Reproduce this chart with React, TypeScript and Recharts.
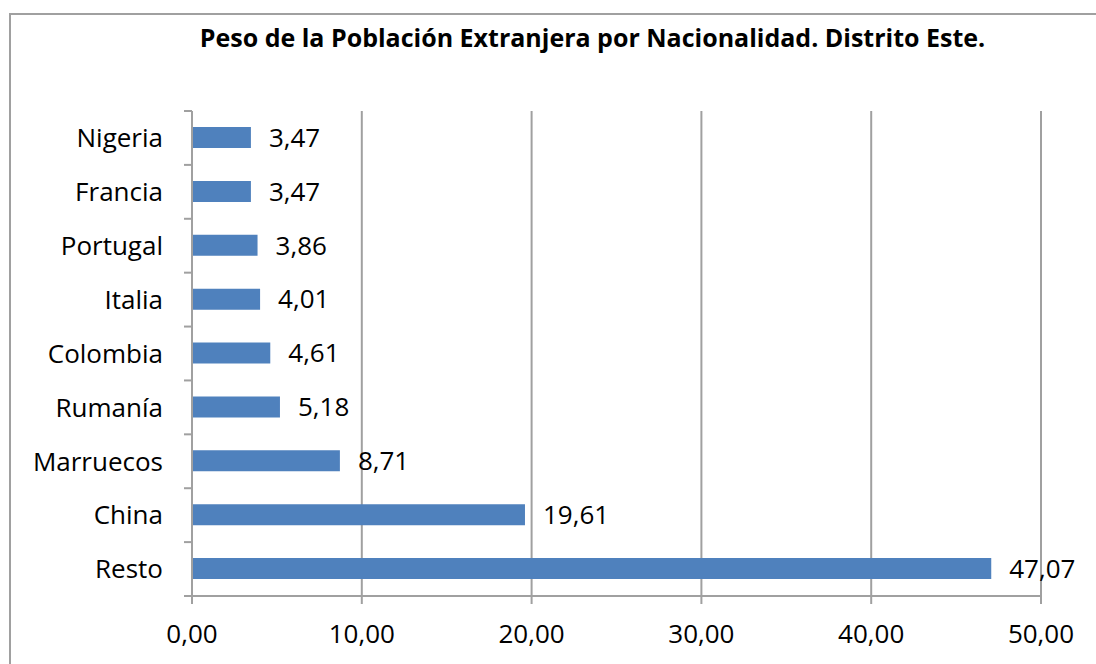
import React from "react";
import { BarChart, Bar, XAxis, YAxis, CartesianGrid, LabelList } from "recharts";

const countries = ["Nigeria", "Francia", "Portugal", "Italia", "Colombia", "Rumanía", "Marruecos", "China", "Resto"];
const weights = [3.47, 3.47, 3.86, 4.01, 4.61, 5.18, 8.71, 19.61, 47.07];
const xTicks = [0, 10, 20, 30, 40, 50];
const title = "Peso de la Población Extranjera por Nacionalidad. Distrito Este.";

const data = countries.map((c, i) => ({ name: c, value: weights[i] }));

const fmt = (v: any) => Number(v).toFixed(2).replace(".", ",");
const FONT = "'Open Sans', 'Noto Sans', sans-serif";
const GRAY = "#a0a0a0";

const W = 1096;
const H = 664;
const M_TOP = 111;
const X_AXIS_H = 68;
const Y_AXIS_W = 192;
const PLOT_H = H - M_TOP - X_AXIS_H;
const STEP = PLOT_H / countries.length;
const TICK_LEN = 8;

const CatTick = (props: any) => {
  const { x, y, payload, index } = props;
  const half = STEP / 2;
  return (
    <g>
      <text x={x} y={y} dy="0.355em" textAnchor="end" fill="#000" fontSize={26} fontFamily={FONT}>{payload.value}</text>
      <line x1={Y_AXIS_W - TICK_LEN} x2={Y_AXIS_W} y1={y - half} y2={y - half} stroke={GRAY} strokeWidth={2} />
      {index === countries.length - 1 ? (
        <line x1={Y_AXIS_W - TICK_LEN} x2={Y_AXIS_W} y1={y + half} y2={y + half} stroke={GRAY} strokeWidth={2} />
      ) : null}
    </g>
  );
};

export default function App() {
  return (
    <div style={{ position: "absolute", left: 0, top: 0, width: W, height: H, overflow: "hidden", background: "#fff", fontFamily: FONT }}>
      <div style={{ position: "absolute", left: 9, top: 13, width: 1200, height: 800, border: `2px solid ${GRAY}` }} />
      <div style={{ position: "absolute", left: 0, top: 20, width: 1185, textAlign: "center", fontWeight: 700, fontSize: 25, color: "#000", whiteSpace: "nowrap" }}>{title}</div>
      <div style={{ position: "absolute", left: 0, top: 0 }}>
        <BarChart width={W} height={H} layout="vertical" data={data} barSize={21} margin={{ top: M_TOP, right: 55, bottom: 0, left: 0 }}>
          <CartesianGrid horizontal={false} stroke={GRAY} strokeWidth={2} />
          <XAxis type="number" domain={[0, 50]} ticks={xTicks} tickFormatter={fmt} height={X_AXIS_H} stroke={GRAY} strokeWidth={2} tickSize={TICK_LEN} tickMargin={21} tick={{ fill: "#000", fontSize: 26, fontFamily: FONT }} />
          <YAxis type="category" dataKey="name" width={Y_AXIS_W} axisLine={{ stroke: GRAY, strokeWidth: 2 }} tickLine={false} tickMargin={23} tick={<CatTick />} />
          <Bar dataKey="value" fill="#4f81bd" isAnimationActive={false}>
            <LabelList dataKey="value" position="right" offset={18} formatter={fmt} style={{ fill: "#000", fontSize: 26, fontFamily: FONT }} />
          </Bar>
        </BarChart>
      </div>
    </div>
  );
}
